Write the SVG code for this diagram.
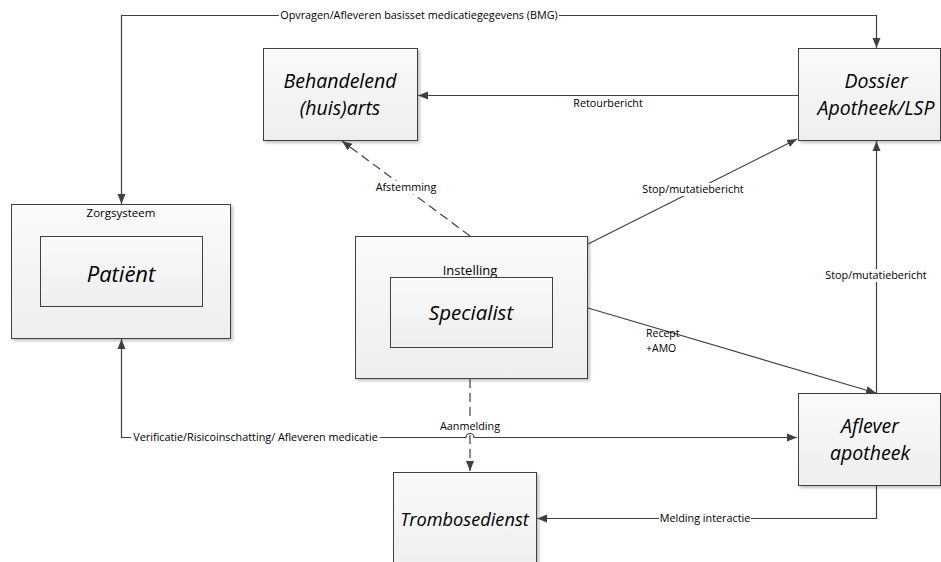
<svg xmlns="http://www.w3.org/2000/svg" width="941" height="562" viewBox="0 0 941 562">
  <style>
    .box { stroke: #404040; stroke-width: 1; fill: url(#boxFill); filter: url(#shadow); }
    .inner { stroke: #404040; stroke-width: 1; fill: url(#boxFill); }
    .title { font-family: "Open Sans", "Liberation Sans", sans-serif; font-style: italic; font-size: 19.5px; fill: #000; text-anchor: middle; }
    .lbl { font-family: "Open Sans", "Liberation Sans", sans-serif; font-size: 10.8px; fill: #000; text-anchor: middle; }
    .start { text-anchor: start; }
    .bg { fill: #fff; }
    .line { stroke: #404040; stroke-width: 1.2; fill: none; }
    .arrow { marker-end: url(#arrowHead); }
    .dash { stroke-dasharray: 9 5; }
  </style>
  <defs>
    <linearGradient id="boxFill" x1="0" y1="0" x2="0" y2="1">
      <stop offset="0" stop-color="#fafafa"/>
      <stop offset="1" stop-color="#eeeeee"/>
    </linearGradient>
    <filter id="shadow" x="-10%" y="-10%" width="125%" height="125%">
      <feGaussianBlur in="SourceAlpha" stdDeviation="1.5"/>
      <feOffset dx="2" dy="2" result="o"/>
      <feComponentTransfer><feFuncA type="linear" slope="0.25"/></feComponentTransfer>
      <feMerge><feMergeNode/><feMergeNode in="SourceGraphic"/></feMerge>
    </filter>
    <marker id="arrowHead" viewBox="0 0 10 10" refX="10" refY="5" markerWidth="10" markerHeight="10" markerUnits="userSpaceOnUse" orient="auto">
      <path d="M0,1 L10,5 L0,9 Z" fill="#404040"/>
    </marker>
  </defs>

  <rect width="941" height="562" fill="#fff"/>

  <!-- nodes -->
  <g id="behandelend">
    <rect class="box" x="263.5" y="48.5" width="154" height="92"/>
    <text class="title" x="340" y="88">Behandelend</text>
    <text class="title" x="340" y="115">(huis)arts</text>
  </g>
  <g id="dossier">
    <rect class="box" x="798.5" y="48.5" width="142" height="92"/>
    <text class="title" x="876" y="88">Dossier</text>
    <text class="title" x="876" y="115">Apotheek/LSP</text>
  </g>
  <g id="zorgsysteem">
    <rect class="box" x="11.5" y="204.5" width="219" height="134"/>
    <text class="lbl" x="121" y="217" style="font-size:11.5px">Zorgsysteem</text>
    <rect class="inner" x="40.5" y="236.5" width="162" height="70"/>
    <text class="title" x="121" y="282" style="font-size:22px">Patiënt</text>
  </g>
  <g id="instelling">
    <rect class="box" x="355.5" y="236.5" width="232" height="142"/>
    <text class="lbl" x="470" y="275" style="font-size:13px">Instelling</text>
    <rect class="inner" x="390.5" y="277.5" width="162" height="70"/>
    <text class="title" x="471" y="320" style="font-size:20.5px">Specialist</text>
  </g>
  <g id="aflever">
    <rect class="box" x="798.5" y="393.5" width="142" height="92"/>
    <text class="title" x="870" y="433">Aflever</text>
    <text class="title" x="870" y="460">apotheek</text>
  </g>
  <g id="trombosedienst">
    <rect class="box" x="393.5" y="472.5" width="143" height="100"/>
    <text class="title" x="464.5" y="526" style="font-size:18.2px">Trombosedienst</text>
  </g>

  <!-- connectors -->
  <g id="connectors">
    <!-- BMG: Zorgsysteem <-> Dossier -->
    <polyline class="line arrow" points="121.5,195 121.5,15.5 876.5,15.5 876.5,48"/>
    <line class="line arrow" x1="121.5" y1="195" x2="121.5" y2="204"/>
    <rect class="bg" x="279" y="9" width="280" height="13"/>
    <text class="lbl" x="419" y="19">Opvragen/Afleveren basisset medicatiegegevens (BMG)</text>

    <!-- Retourbericht -->
    <line class="line arrow" x1="798" y1="95.5" x2="418" y2="95.5"/>
    <text class="lbl" x="608" y="107">Retourbericht</text>

    <!-- Afstemming -->
    <line class="line arrow dash" x1="470" y1="236" x2="342" y2="141"/>
    <rect class="bg" x="375" y="181" width="63" height="13"/>
    <text class="lbl" x="406" y="191">Afstemming</text>

    <!-- Stop/mutatiebericht Instelling -> Dossier -->
    <line class="line arrow" x1="588" y1="244" x2="797" y2="139"/>
    <rect class="bg" x="642" y="183" width="103" height="13"/>
    <text class="lbl" x="693" y="193">Stop/mutatiebericht</text>

    <!-- Stop/mutatiebericht Aflever -> Dossier -->
    <line class="line arrow" x1="876.5" y1="393" x2="876.5" y2="141"/>
    <rect class="bg" x="824" y="269" width="104" height="13"/>
    <text class="lbl" x="876" y="279">Stop/mutatiebericht</text>

    <!-- Recept + AMO (two-line label) -->
    <line class="line arrow" x1="588" y1="308" x2="876" y2="393"/>
    <text class="lbl start" x="646" y="337" style="font-size:10.5px">Recept</text>
    <text class="lbl start" x="646" y="351.5" style="font-size:10.5px">+AMO</text>

    <!-- Verificatie: Patiënt <-> Aflever, hopping over the Aanmelding line -->
    <path class="line" d="M121.5,350 L121.5,437.5 L466,437.5 A4,4 0 0 1 474,437.5 L797,437.5" marker-end="url(#arrowHead)"/>
    <line class="line arrow" x1="121.5" y1="350" x2="121.5" y2="339"/>
    <rect class="bg" x="131" y="431" width="249" height="13"/>
    <text class="lbl" x="255.5" y="441">Verificatie/Risicoinschatting/ Afleveren medicatie</text>

    <!-- Aanmelding -->
    <line class="line arrow dash" x1="470" y1="379" x2="470" y2="471"/>
    <rect class="bg" x="439" y="420" width="62" height="13"/>
    <text class="lbl" x="470" y="430">Aanmelding</text>

    <!-- Melding interactie -->
    <polyline class="line arrow" points="876.5,486 876.5,518.5 537,518.5"/>
    <rect class="bg" x="659" y="512" width="92" height="13"/>
    <text class="lbl" x="705" y="522">Melding interactie</text>
  </g>
</svg>
